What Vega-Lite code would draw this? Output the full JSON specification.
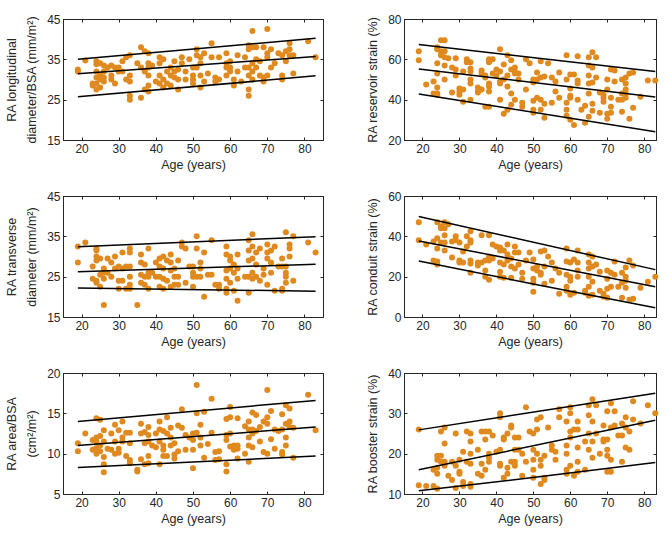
{
 "$schema": "https://vega.github.io/schema/vega-lite/v6.json",
 "padding": {"left": 4, "top": 12, "right": 5, "bottom": 2},
 "config": {
  "font": "Liberation Sans",
  "view": {"stroke": "#262626", "strokeWidth": 1},
  "axis": {"labelFontSize": 12, "titleFontSize": 12.5, "titleFontWeight": "normal", "labelColor": "#262626", "titleColor": "#262626", "domainColor": "#262626", "tickColor": "#262626", "tickSize": -3, "grid": false, "labelPadding": 6, "labelOverlap": false},
  "axisY": {"minExtent": 18, "maxExtent": 18, "titlePadding": 7, "titleLineHeight": 20},
  "axisX": {"titlePadding": 4}
 },
 "datasets": {
  "p1": [{"a":19,"v":32.5},{"a":19,"v":32},{"a":21,"v":34.7},{"a":23,"v":29},{"a":23,"v":28.5},{"a":24,"v":34.5},{"a":24,"v":33.8},{"a":24,"v":32},{"a":24,"v":30.5},{"a":24,"v":29},{"a":24,"v":27.5},{"a":25,"v":34},{"a":25,"v":31},{"a":25,"v":30},{"a":25,"v":28},{"a":26,"v":33.5},{"a":26,"v":32},{"a":26,"v":30.5},{"a":26,"v":29.5},{"a":27,"v":33},{"a":28,"v":33.5},{"a":28,"v":31},{"a":28,"v":30},{"a":29,"v":29},{"a":29,"v":33},{"a":30,"v":32},{"a":30,"v":33},{"a":31,"v":32},{"a":31,"v":34.5},{"a":32,"v":35.5},{"a":32,"v":30},{"a":33,"v":36},{"a":33,"v":31},{"a":33,"v":26},{"a":33,"v":25},{"a":33,"v":29.5},{"a":35,"v":34},{"a":36,"v":38},{"a":36,"v":33},{"a":36,"v":25.5},{"a":37,"v":37},{"a":37,"v":32},{"a":37,"v":27.5},{"a":38,"v":36.5},{"a":38,"v":34},{"a":38,"v":33},{"a":38,"v":31},{"a":38,"v":28.5},{"a":38,"v":27},{"a":39,"v":33.5},{"a":40,"v":29.5},{"a":41,"v":35.5},{"a":41,"v":34},{"a":41,"v":31},{"a":41,"v":29},{"a":42,"v":35},{"a":42,"v":30},{"a":42,"v":28},{"a":43,"v":32},{"a":43,"v":29},{"a":44,"v":33},{"a":44,"v":31},{"a":44,"v":28.5},{"a":45,"v":34.5},{"a":45,"v":32},{"a":45,"v":30.5},{"a":46,"v":27.5},{"a":46,"v":30},{"a":46,"v":32.5},{"a":47,"v":35.5},{"a":47,"v":34},{"a":48,"v":32},{"a":48,"v":30},{"a":49,"v":35},{"a":50,"v":33},{"a":50,"v":31},{"a":50,"v":30},{"a":50,"v":29},{"a":51,"v":37.5},{"a":51,"v":36},{"a":51,"v":33},{"a":52,"v":35.5},{"a":52,"v":34},{"a":52,"v":31},{"a":52,"v":28},{"a":53,"v":36.5},{"a":53,"v":29.5},{"a":54,"v":31.5},{"a":55,"v":39},{"a":55,"v":35.5},{"a":56,"v":30.5},{"a":56,"v":29.5},{"a":57,"v":35.5},{"a":57,"v":30},{"a":59,"v":36.5},{"a":59,"v":34},{"a":59,"v":33},{"a":59,"v":31},{"a":60,"v":34.5},{"a":60,"v":33},{"a":60,"v":32},{"a":61,"v":30},{"a":61,"v":28.5},{"a":62,"v":36},{"a":62,"v":32},{"a":63,"v":29.5},{"a":64,"v":35.5},{"a":64,"v":33},{"a":65,"v":38.5},{"a":65,"v":37.5},{"a":65,"v":33},{"a":65,"v":31},{"a":65,"v":27.5},{"a":65,"v":26},{"a":66,"v":42},{"a":66,"v":38},{"a":66,"v":34},{"a":66,"v":32},{"a":66,"v":30},{"a":67,"v":38},{"a":67,"v":35},{"a":67,"v":33},{"a":68,"v":34.5},{"a":68,"v":31},{"a":69,"v":38},{"a":69,"v":30.5},{"a":69,"v":29.5},{"a":70,"v":42.5},{"a":70,"v":36.5},{"a":70,"v":35.5},{"a":70,"v":31},{"a":71,"v":37.5},{"a":71,"v":33},{"a":72,"v":34},{"a":73,"v":36.5},{"a":74,"v":36},{"a":74,"v":31},{"a":74,"v":30},{"a":75,"v":37},{"a":75,"v":34.5},{"a":76,"v":39},{"a":76,"v":37.5},{"a":76,"v":36},{"a":77,"v":36},{"a":77,"v":31.5},{"a":81,"v":39.5},{"a":83,"v":35.5}],
  "p2": [{"a":19,"v":64},{"a":19,"v":59.5},{"a":21,"v":47.5},{"a":23,"v":49},{"a":23,"v":43},{"a":24,"v":66},{"a":24,"v":65},{"a":24,"v":58},{"a":24,"v":53},{"a":24,"v":46},{"a":24,"v":43},{"a":24,"v":42.5},{"a":25,"v":69.5},{"a":25,"v":64},{"a":25,"v":62},{"a":26,"v":69.5},{"a":26,"v":64},{"a":26,"v":61},{"a":26,"v":57},{"a":26,"v":50},{"a":27,"v":60.5},{"a":28,"v":56},{"a":28,"v":43.5},{"a":29,"v":60.5},{"a":29,"v":55},{"a":29,"v":52},{"a":30,"v":45.5},{"a":30,"v":44},{"a":30,"v":42.5},{"a":31,"v":54},{"a":31,"v":45},{"a":31,"v":39},{"a":32,"v":60},{"a":32,"v":58.5},{"a":33,"v":58.5},{"a":33,"v":55.5},{"a":33,"v":54},{"a":33,"v":50},{"a":33,"v":48},{"a":33,"v":40},{"a":35,"v":46},{"a":35,"v":44},{"a":35,"v":43.5},{"a":36,"v":54.5},{"a":36,"v":53},{"a":36,"v":45},{"a":37,"v":52},{"a":37,"v":51},{"a":37,"v":36.5},{"a":38,"v":60},{"a":38,"v":58.5},{"a":38,"v":48},{"a":38,"v":46.5},{"a":38,"v":44},{"a":38,"v":36.5},{"a":39,"v":60},{"a":39,"v":53},{"a":40,"v":55},{"a":40,"v":52},{"a":41,"v":65},{"a":41,"v":54},{"a":41,"v":49},{"a":41,"v":48},{"a":41,"v":40},{"a":42,"v":57.5},{"a":42,"v":50},{"a":42,"v":33},{"a":43,"v":62},{"a":43,"v":52},{"a":43,"v":46.5},{"a":43,"v":35},{"a":44,"v":59.5},{"a":44,"v":55},{"a":44,"v":43},{"a":44,"v":37.5},{"a":45,"v":56},{"a":45,"v":54},{"a":45,"v":53},{"a":45,"v":40},{"a":46,"v":50},{"a":46,"v":53},{"a":47,"v":38.5},{"a":47,"v":36.5},{"a":48,"v":60},{"a":48,"v":45},{"a":49,"v":58},{"a":50,"v":50},{"a":50,"v":48.5},{"a":50,"v":39.5},{"a":50,"v":35},{"a":50,"v":33.5},{"a":51,"v":53.5},{"a":51,"v":50},{"a":51,"v":41},{"a":52,"v":59},{"a":52,"v":51},{"a":52,"v":40},{"a":52,"v":35},{"a":53,"v":51.5},{"a":53,"v":38},{"a":53,"v":31},{"a":54,"v":58},{"a":55,"v":51},{"a":55,"v":38.5},{"a":56,"v":44},{"a":56,"v":49},{"a":57,"v":53.5},{"a":57,"v":41},{"a":59,"v":62},{"a":59,"v":50},{"a":59,"v":38.5},{"a":59,"v":35},{"a":59,"v":32},{"a":60,"v":52.5},{"a":60,"v":45.5},{"a":60,"v":42},{"a":60,"v":41},{"a":60,"v":30},{"a":61,"v":52.5},{"a":61,"v":27.5},{"a":62,"v":61.5},{"a":62,"v":49.5},{"a":62,"v":48},{"a":62,"v":40},{"a":63,"v":35},{"a":64,"v":37},{"a":64,"v":28.5},{"a":65,"v":61},{"a":65,"v":57},{"a":65,"v":52},{"a":65,"v":48},{"a":65,"v":43},{"a":65,"v":31.5},{"a":66,"v":63.5},{"a":66,"v":56},{"a":66,"v":48.5},{"a":66,"v":38},{"a":66,"v":34.5},{"a":67,"v":61},{"a":67,"v":51},{"a":68,"v":43.5},{"a":68,"v":33.5},{"a":69,"v":42.5},{"a":69,"v":41},{"a":69,"v":39},{"a":70,"v":50},{"a":70,"v":45},{"a":70,"v":33},{"a":70,"v":30.5},{"a":71,"v":55},{"a":71,"v":41},{"a":71,"v":36.5},{"a":71,"v":33.5},{"a":72,"v":54.5},{"a":72,"v":49},{"a":73,"v":40},{"a":74,"v":50},{"a":74,"v":43},{"a":74,"v":40},{"a":74,"v":34},{"a":75,"v":51},{"a":75,"v":48},{"a":75,"v":45},{"a":75,"v":43},{"a":75,"v":41},{"a":76,"v":53},{"a":76,"v":30.5},{"a":77,"v":53.5},{"a":77,"v":36},{"a":79,"v":41.5},{"a":81,"v":49.5},{"a":83,"v":49.5}],
  "p3": [{"a":19,"v":32.5},{"a":19,"v":28.5},{"a":21,"v":33.5},{"a":23,"v":27.5},{"a":23,"v":24.5},{"a":24,"v":32},{"a":24,"v":31.5},{"a":24,"v":30},{"a":24,"v":29},{"a":24,"v":24},{"a":24,"v":23.5},{"a":25,"v":29.5},{"a":25,"v":25.5},{"a":25,"v":22.5},{"a":26,"v":27},{"a":26,"v":26},{"a":26,"v":24.5},{"a":26,"v":18},{"a":27,"v":29.5},{"a":27,"v":26},{"a":28,"v":28.5},{"a":28,"v":25},{"a":29,"v":30},{"a":29,"v":27},{"a":30,"v":27.5},{"a":30,"v":24},{"a":30,"v":22},{"a":31,"v":31},{"a":31,"v":27},{"a":31,"v":24},{"a":32,"v":27.5},{"a":32,"v":22},{"a":33,"v":32},{"a":33,"v":31},{"a":33,"v":27.5},{"a":33,"v":25},{"a":33,"v":23},{"a":33,"v":22},{"a":35,"v":18},{"a":36,"v":30.5},{"a":36,"v":28.5},{"a":36,"v":25.5},{"a":36,"v":23.5},{"a":37,"v":28},{"a":37,"v":25},{"a":37,"v":23},{"a":38,"v":32},{"a":38,"v":26},{"a":38,"v":25},{"a":38,"v":22},{"a":39,"v":26},{"a":40,"v":28.5},{"a":40,"v":25},{"a":41,"v":29.5},{"a":41,"v":27.5},{"a":41,"v":25},{"a":41,"v":22.5},{"a":42,"v":30},{"a":42,"v":27},{"a":42,"v":24.5},{"a":42,"v":22},{"a":43,"v":29},{"a":43,"v":24},{"a":44,"v":30.5},{"a":44,"v":28.5},{"a":44,"v":26.5},{"a":44,"v":22.5},{"a":45,"v":27},{"a":45,"v":25},{"a":45,"v":23},{"a":46,"v":29},{"a":46,"v":25},{"a":46,"v":23},{"a":47,"v":33.5},{"a":47,"v":32.5},{"a":48,"v":32},{"a":48,"v":23.5},{"a":49,"v":27.5},{"a":50,"v":27.5},{"a":50,"v":26},{"a":50,"v":25},{"a":50,"v":22.5},{"a":51,"v":35},{"a":51,"v":32},{"a":51,"v":25},{"a":52,"v":28.5},{"a":52,"v":27},{"a":52,"v":25},{"a":53,"v":31},{"a":53,"v":20},{"a":54,"v":25.5},{"a":55,"v":34},{"a":55,"v":25.5},{"a":56,"v":23},{"a":57,"v":23},{"a":57,"v":22},{"a":59,"v":32.5},{"a":59,"v":30.5},{"a":59,"v":26.5},{"a":59,"v":24.5},{"a":59,"v":22},{"a":59,"v":21},{"a":60,"v":30},{"a":60,"v":29},{"a":60,"v":27},{"a":60,"v":23.5},{"a":61,"v":28},{"a":61,"v":26},{"a":61,"v":21.5},{"a":62,"v":30.5},{"a":62,"v":27},{"a":62,"v":24.5},{"a":62,"v":19},{"a":64,"v":25},{"a":65,"v":34},{"a":65,"v":31.5},{"a":65,"v":29},{"a":65,"v":25},{"a":65,"v":21},{"a":66,"v":35.5},{"a":66,"v":32.5},{"a":66,"v":29.5},{"a":66,"v":26},{"a":66,"v":24.5},{"a":67,"v":31},{"a":67,"v":28},{"a":67,"v":25},{"a":68,"v":32},{"a":68,"v":24},{"a":69,"v":25.5},{"a":69,"v":27},{"a":70,"v":33},{"a":70,"v":31},{"a":70,"v":29.5},{"a":70,"v":23},{"a":71,"v":31.5},{"a":71,"v":28.5},{"a":71,"v":26},{"a":72,"v":32.5},{"a":72,"v":21.5},{"a":73,"v":27.5},{"a":74,"v":29.5},{"a":74,"v":27.5},{"a":74,"v":22},{"a":74,"v":21.5},{"a":75,"v":36},{"a":75,"v":27.5},{"a":75,"v":26},{"a":75,"v":25},{"a":75,"v":23.5},{"a":76,"v":33},{"a":76,"v":32},{"a":76,"v":30},{"a":77,"v":35},{"a":77,"v":24},{"a":81,"v":33.5},{"a":83,"v":31}],
  "p4": [{"a":19,"v":47},{"a":19,"v":38},{"a":21,"v":36},{"a":23,"v":37.5},{"a":23,"v":28},{"a":24,"v":47},{"a":24,"v":39},{"a":24,"v":34},{"a":24,"v":27.5},{"a":24,"v":26},{"a":25,"v":45},{"a":25,"v":44},{"a":25,"v":37},{"a":26,"v":47},{"a":26,"v":44},{"a":26,"v":40.5},{"a":26,"v":37},{"a":26,"v":33},{"a":27,"v":46},{"a":28,"v":37.5},{"a":28,"v":29.5},{"a":29,"v":40},{"a":29,"v":38},{"a":30,"v":37},{"a":30,"v":28},{"a":30,"v":27},{"a":31,"v":32.5},{"a":31,"v":27},{"a":32,"v":40},{"a":32,"v":35},{"a":33,"v":42.5},{"a":33,"v":38},{"a":33,"v":37},{"a":33,"v":28},{"a":33,"v":26.5},{"a":33,"v":22},{"a":35,"v":27},{"a":35,"v":25.5},{"a":36,"v":40.5},{"a":36,"v":27},{"a":37,"v":28},{"a":37,"v":23},{"a":37,"v":20},{"a":38,"v":40.5},{"a":38,"v":30},{"a":38,"v":28},{"a":38,"v":18.5},{"a":39,"v":36},{"a":39,"v":29},{"a":40,"v":35},{"a":41,"v":34.5},{"a":41,"v":33},{"a":41,"v":27},{"a":41,"v":22.5},{"a":41,"v":20},{"a":42,"v":33},{"a":42,"v":26},{"a":42,"v":19.5},{"a":43,"v":36},{"a":43,"v":31},{"a":43,"v":28},{"a":44,"v":29},{"a":44,"v":25},{"a":44,"v":19.5},{"a":45,"v":35},{"a":45,"v":32},{"a":45,"v":24},{"a":46,"v":32},{"a":46,"v":26},{"a":47,"v":22},{"a":47,"v":19},{"a":48,"v":28},{"a":49,"v":32},{"a":50,"v":28.5},{"a":50,"v":24},{"a":50,"v":19},{"a":50,"v":17},{"a":50,"v":12.5},{"a":51,"v":25},{"a":51,"v":23},{"a":52,"v":32.5},{"a":52,"v":22},{"a":52,"v":21},{"a":53,"v":33},{"a":53,"v":25},{"a":53,"v":16.5},{"a":54,"v":30},{"a":55,"v":27},{"a":55,"v":18},{"a":56,"v":24},{"a":57,"v":22},{"a":57,"v":11.5},{"a":59,"v":34},{"a":59,"v":27.5},{"a":59,"v":21},{"a":59,"v":15},{"a":59,"v":13},{"a":60,"v":27},{"a":60,"v":20},{"a":60,"v":18},{"a":60,"v":11},{"a":61,"v":28.5},{"a":61,"v":12},{"a":62,"v":33},{"a":62,"v":27},{"a":62,"v":23},{"a":62,"v":20},{"a":64,"v":13},{"a":64,"v":12},{"a":65,"v":31},{"a":65,"v":27},{"a":65,"v":24},{"a":65,"v":20},{"a":65,"v":15},{"a":65,"v":10.5},{"a":66,"v":30},{"a":66,"v":25},{"a":66,"v":17.5},{"a":66,"v":11},{"a":67,"v":26},{"a":68,"v":22.5},{"a":68,"v":13},{"a":69,"v":11.5},{"a":69,"v":10},{"a":70,"v":23},{"a":70,"v":19},{"a":70,"v":14},{"a":70,"v":9.5},{"a":71,"v":22},{"a":71,"v":15},{"a":72,"v":27.5},{"a":72,"v":21},{"a":73,"v":15},{"a":74,"v":22},{"a":74,"v":17},{"a":74,"v":9.5},{"a":75,"v":24.5},{"a":75,"v":20},{"a":75,"v":18},{"a":75,"v":14.5},{"a":76,"v":28},{"a":76,"v":8.5},{"a":77,"v":25.5},{"a":77,"v":9},{"a":79,"v":14.5},{"a":81,"v":17.5},{"a":83,"v":20}],
  "p5": [{"a":19,"v":11.3},{"a":19,"v":10.3},{"a":21,"v":12.5},{"a":23,"v":11.7},{"a":23,"v":10.5},{"a":24,"v":14.4},{"a":24,"v":12},{"a":24,"v":11.5},{"a":24,"v":10.7},{"a":24,"v":10},{"a":25,"v":14.2},{"a":25,"v":12.2},{"a":25,"v":11},{"a":25,"v":10.3},{"a":26,"v":12.9},{"a":26,"v":11.5},{"a":26,"v":9.6},{"a":26,"v":8.7},{"a":26,"v":7.7},{"a":27,"v":10.6},{"a":28,"v":12.5},{"a":28,"v":10.5},{"a":29,"v":13.6},{"a":29,"v":11.5},{"a":29,"v":10},{"a":30,"v":12.9},{"a":30,"v":10.6},{"a":30,"v":10.1},{"a":31,"v":14},{"a":31,"v":12},{"a":31,"v":11.5},{"a":32,"v":12.6},{"a":32,"v":9.7},{"a":33,"v":12.6},{"a":33,"v":11.3},{"a":33,"v":9.2},{"a":33,"v":8.8},{"a":35,"v":8},{"a":35,"v":7.8},{"a":36,"v":13.7},{"a":36,"v":12.5},{"a":36,"v":9.3},{"a":37,"v":12.7},{"a":37,"v":11.3},{"a":37,"v":8.7},{"a":38,"v":13.3},{"a":38,"v":12.3},{"a":38,"v":11.5},{"a":38,"v":9.7},{"a":38,"v":8.8},{"a":39,"v":11},{"a":40,"v":12.5},{"a":40,"v":10.8},{"a":41,"v":14},{"a":41,"v":13},{"a":41,"v":11.5},{"a":41,"v":8.7},{"a":42,"v":12.8},{"a":42,"v":11},{"a":42,"v":10.5},{"a":42,"v":9.7},{"a":43,"v":14.5},{"a":43,"v":12.5},{"a":43,"v":9.7},{"a":44,"v":13.2},{"a":44,"v":12},{"a":44,"v":11},{"a":45,"v":11.3},{"a":45,"v":9.9},{"a":45,"v":9.4},{"a":46,"v":13.5},{"a":46,"v":10.3},{"a":47,"v":15.5},{"a":47,"v":13.2},{"a":48,"v":12.3},{"a":48,"v":10.5},{"a":49,"v":12},{"a":50,"v":12.5},{"a":50,"v":11.7},{"a":50,"v":10.5},{"a":50,"v":8.2},{"a":51,"v":18.5},{"a":51,"v":15},{"a":51,"v":12.6},{"a":52,"v":13.6},{"a":52,"v":12},{"a":52,"v":11},{"a":53,"v":15.2},{"a":53,"v":9.5},{"a":54,"v":11.2},{"a":55,"v":16.8},{"a":55,"v":12.6},{"a":56,"v":10.2},{"a":56,"v":9.2},{"a":57,"v":10.3},{"a":57,"v":9.3},{"a":59,"v":14.3},{"a":59,"v":12.3},{"a":59,"v":11.7},{"a":59,"v":8.7},{"a":59,"v":7.8},{"a":60,"v":15.8},{"a":60,"v":14.5},{"a":60,"v":12.5},{"a":60,"v":10.9},{"a":61,"v":11},{"a":61,"v":10.5},{"a":62,"v":14.4},{"a":62,"v":11},{"a":62,"v":10.6},{"a":62,"v":9.4},{"a":64,"v":13.4},{"a":64,"v":10},{"a":65,"v":14},{"a":65,"v":13},{"a":65,"v":12},{"a":65,"v":11},{"a":65,"v":9},{"a":66,"v":15.1},{"a":66,"v":13},{"a":66,"v":12.5},{"a":66,"v":10.8},{"a":67,"v":14.8},{"a":67,"v":12.8},{"a":68,"v":13.3},{"a":68,"v":11.5},{"a":69,"v":14},{"a":69,"v":10.2},{"a":70,"v":17.9},{"a":70,"v":14.5},{"a":70,"v":13.7},{"a":70,"v":10},{"a":71,"v":15.3},{"a":71,"v":11.8},{"a":72,"v":13},{"a":72,"v":10.6},{"a":73,"v":12.8},{"a":74,"v":14.9},{"a":74,"v":13},{"a":74,"v":10.2},{"a":74,"v":9.9},{"a":75,"v":16},{"a":75,"v":13.7},{"a":75,"v":12},{"a":75,"v":11},{"a":76,"v":15.6},{"a":76,"v":14},{"a":76,"v":13.3},{"a":77,"v":13.2},{"a":77,"v":9.5},{"a":81,"v":17.3},{"a":83,"v":12.9}],
  "p6": [{"a":19,"v":26},{"a":19,"v":12.2},{"a":21,"v":12},{"a":23,"v":16},{"a":23,"v":12},{"a":24,"v":19.5},{"a":24,"v":18.5},{"a":24,"v":16.5},{"a":24,"v":15},{"a":24,"v":11.3},{"a":25,"v":25.5},{"a":25,"v":19.5},{"a":25,"v":18},{"a":26,"v":26.5},{"a":26,"v":22.5},{"a":26,"v":18},{"a":26,"v":17},{"a":27,"v":14.5},{"a":28,"v":18},{"a":28,"v":13.5},{"a":29,"v":25},{"a":29,"v":17},{"a":29,"v":11.5},{"a":30,"v":18.5},{"a":30,"v":15.5},{"a":30,"v":15},{"a":31,"v":20.5},{"a":31,"v":13},{"a":31,"v":12},{"a":32,"v":25.5},{"a":32,"v":18},{"a":33,"v":25},{"a":33,"v":23},{"a":33,"v":20},{"a":33,"v":17.5},{"a":33,"v":12.5},{"a":33,"v":11.8},{"a":35,"v":21},{"a":35,"v":15},{"a":36,"v":25.5},{"a":36,"v":17.5},{"a":36,"v":14.5},{"a":37,"v":25.5},{"a":37,"v":23.5},{"a":37,"v":16},{"a":38,"v":25.5},{"a":38,"v":20},{"a":38,"v":19},{"a":38,"v":18},{"a":39,"v":24.5},{"a":40,"v":20.5},{"a":41,"v":30},{"a":41,"v":29},{"a":41,"v":21},{"a":41,"v":17.5},{"a":41,"v":17},{"a":42,"v":24},{"a":42,"v":23.5},{"a":42,"v":14},{"a":43,"v":25},{"a":43,"v":16.5},{"a":43,"v":15},{"a":44,"v":27},{"a":44,"v":26.5},{"a":44,"v":18},{"a":45,"v":24},{"a":45,"v":21},{"a":45,"v":17},{"a":45,"v":18},{"a":46,"v":24},{"a":46,"v":21},{"a":47,"v":20},{"a":47,"v":14.5},{"a":48,"v":31.5},{"a":48,"v":18},{"a":49,"v":25.5},{"a":50,"v":25},{"a":50,"v":21},{"a":50,"v":18.5},{"a":50,"v":16},{"a":50,"v":14},{"a":51,"v":28.5},{"a":51,"v":26},{"a":51,"v":20},{"a":52,"v":29},{"a":52,"v":18.5},{"a":52,"v":17},{"a":52,"v":12.5},{"a":53,"v":19.5},{"a":53,"v":14},{"a":53,"v":13.5},{"a":54,"v":26.5},{"a":55,"v":22},{"a":55,"v":21},{"a":56,"v":18.5},{"a":56,"v":20.5},{"a":57,"v":31},{"a":57,"v":29},{"a":59,"v":28},{"a":59,"v":22},{"a":59,"v":20},{"a":59,"v":16},{"a":59,"v":15},{"a":60,"v":31.5},{"a":60,"v":30},{"a":60,"v":25.5},{"a":60,"v":24},{"a":60,"v":17},{"a":61,"v":26},{"a":61,"v":14.5},{"a":62,"v":28},{"a":62,"v":26},{"a":62,"v":21.5},{"a":62,"v":18},{"a":62,"v":15.5},{"a":64,"v":23},{"a":64,"v":16},{"a":65,"v":32},{"a":65,"v":29.5},{"a":65,"v":25},{"a":65,"v":21},{"a":66,"v":33.5},{"a":66,"v":28},{"a":66,"v":23},{"a":66,"v":19},{"a":67,"v":32},{"a":67,"v":25},{"a":68,"v":20},{"a":69,"v":27},{"a":69,"v":23.5},{"a":69,"v":23},{"a":70,"v":30.5},{"a":70,"v":23.5},{"a":70,"v":21},{"a":70,"v":19.5},{"a":70,"v":15.5},{"a":71,"v":32.5},{"a":71,"v":26.5},{"a":71,"v":18.5},{"a":71,"v":15.5},{"a":72,"v":30.5},{"a":72,"v":27},{"a":73,"v":24.5},{"a":74,"v":27.5},{"a":74,"v":24.5},{"a":74,"v":18},{"a":75,"v":29},{"a":75,"v":26.5},{"a":75,"v":21.5},{"a":76,"v":25.5},{"a":76,"v":21},{"a":77,"v":33},{"a":77,"v":28.5},{"a":79,"v":27.5},{"a":81,"v":32},{"a":83,"v":30}],
  "l1": [{"a":19,"v":35.0,"g":"u"},{"a":83,"v":40.2,"g":"u"},{"a":19,"v":31.4,"g":"m"},{"a":83,"v":35.7,"g":"m"},{"a":19,"v":25.7,"g":"l"},{"a":83,"v":30.9,"g":"l"}],
  "l2": [{"a":19,"v":67.3,"g":"u"},{"a":83,"v":54.0,"g":"u"},{"a":19,"v":55.2,"g":"m"},{"a":83,"v":41.3,"g":"m"},{"a":19,"v":42.8,"g":"l"},{"a":83,"v":24.1,"g":"l"}],
  "l3": [{"a":19,"v":32.4,"g":"u"},{"a":83,"v":34.9,"g":"u"},{"a":19,"v":26.2,"g":"m"},{"a":83,"v":28.1,"g":"m"},{"a":19,"v":22.2,"g":"l"},{"a":83,"v":21.4,"g":"l"}],
  "l4": [{"a":19,"v":49.8,"g":"u"},{"a":83,"v":23.5,"g":"u"},{"a":19,"v":37.7,"g":"m"},{"a":83,"v":15.0,"g":"m"},{"a":19,"v":27.8,"g":"l"},{"a":51,"v":16.0,"g":"l"},{"a":83,"v":4.6,"g":"l"}],
  "l5": [{"a":19,"v":14.0,"g":"u"},{"a":83,"v":16.6,"g":"u"},{"a":19,"v":11.0,"g":"m"},{"a":83,"v":13.3,"g":"m"},{"a":19,"v":8.3,"g":"l"},{"a":83,"v":9.7,"g":"l"}],
  "l6": [{"a":19,"v":25.9,"g":"u"},{"a":83,"v":35.0,"g":"u"},{"a":19,"v":16.0,"g":"m"},{"a":83,"v":28.3,"g":"m"},{"a":19,"v":10.8,"g":"l"},{"a":51,"v":14.2,"g":"l"},{"a":83,"v":17.8,"g":"l"}]
 },
 "columns": 2,
 "spacing": {"row": 18, "column": 41},
 "align": "each",
 "concat": [
  {"width": 260, "height": 121, "resolve": {"axis": {"x": "independent", "y": "independent"}},
   "layer": [
    {"data": {"name": "p1"}, "mark": {"type": "circle", "size": 36, "color": "#E0891E", "opacity": 1},
     "encoding": {"x": {"field": "a", "type": "quantitative", "scale": {"domain": [15, 85], "nice": false, "zero": false}, "axis": {"values": [20,30,40,50,60,70,80], "title": "Age (years)"}},
                  "y": {"field": "v", "type": "quantitative", "scale": {"domain": [15, 45], "nice": false, "zero": false}, "axis": {"values": [15,25,35,45], "title": ["RA longitudinal", "diameter/BSA (mm/m²)"]}}}},
    {"data": {"name": "l1"}, "mark": {"type": "line", "color": "black", "strokeWidth": 1.5},
     "encoding": {"x": {"field": "a", "type": "quantitative", "scale": {"domain": [15, 85], "nice": false, "zero": false}, "axis": {"orient": "top", "values": [20,30,40,50,60,70,80], "labels": false, "title": null, "minExtent": 0, "maxExtent": 0}},
                  "y": {"field": "v", "type": "quantitative", "scale": {"domain": [15, 45], "nice": false, "zero": false}, "axis": {"orient": "right", "values": [15,25,35,45], "labels": false, "title": null, "minExtent": 0, "maxExtent": 0}},
                  "detail": {"field": "g"}}}
   ]},
  {"width": 252, "height": 121, "resolve": {"axis": {"x": "independent", "y": "independent"}},
   "layer": [
    {"data": {"name": "p2"}, "mark": {"type": "circle", "size": 36, "color": "#E0891E", "opacity": 1},
     "encoding": {"x": {"field": "a", "type": "quantitative", "scale": {"domain": [15, 83.2], "nice": false, "zero": false}, "axis": {"values": [20,30,40,50,60,70,80], "title": "Age (years)"}},
                  "y": {"field": "v", "type": "quantitative", "scale": {"domain": [20, 80], "nice": false, "zero": false}, "axis": {"values": [20,40,60,80], "title": "RA reservoir strain (%)"}}}},
    {"data": {"name": "l2"}, "mark": {"type": "line", "color": "black", "strokeWidth": 1.5},
     "encoding": {"x": {"field": "a", "type": "quantitative", "scale": {"domain": [15, 83.2], "nice": false, "zero": false}, "axis": {"orient": "top", "values": [20,30,40,50,60,70,80], "labels": false, "title": null, "minExtent": 0, "maxExtent": 0}},
                  "y": {"field": "v", "type": "quantitative", "scale": {"domain": [20, 80], "nice": false, "zero": false}, "axis": {"orient": "right", "values": [20,40,60,80], "labels": false, "title": null, "minExtent": 0, "maxExtent": 0}},
                  "detail": {"field": "g"}}}
   ]},
  {"width": 260, "height": 121, "resolve": {"axis": {"x": "independent", "y": "independent"}},
   "layer": [
    {"data": {"name": "p3"}, "mark": {"type": "circle", "size": 36, "color": "#E0891E", "opacity": 1},
     "encoding": {"x": {"field": "a", "type": "quantitative", "scale": {"domain": [15, 85], "nice": false, "zero": false}, "axis": {"values": [20,30,40,50,60,70,80], "title": "Age (years)"}},
                  "y": {"field": "v", "type": "quantitative", "scale": {"domain": [15, 45], "nice": false, "zero": false}, "axis": {"values": [15,25,35,45], "title": ["RA transverse", "diameter (mm/m²)"]}}}},
    {"data": {"name": "l3"}, "mark": {"type": "line", "color": "black", "strokeWidth": 1.5},
     "encoding": {"x": {"field": "a", "type": "quantitative", "scale": {"domain": [15, 85], "nice": false, "zero": false}, "axis": {"orient": "top", "values": [20,30,40,50,60,70,80], "labels": false, "title": null, "minExtent": 0, "maxExtent": 0}},
                  "y": {"field": "v", "type": "quantitative", "scale": {"domain": [15, 45], "nice": false, "zero": false}, "axis": {"orient": "right", "values": [15,25,35,45], "labels": false, "title": null, "minExtent": 0, "maxExtent": 0}},
                  "detail": {"field": "g"}}}
   ]},
  {"width": 252, "height": 121, "resolve": {"axis": {"x": "independent", "y": "independent"}},
   "layer": [
    {"data": {"name": "p4"}, "mark": {"type": "circle", "size": 36, "color": "#E0891E", "opacity": 1},
     "encoding": {"x": {"field": "a", "type": "quantitative", "scale": {"domain": [15, 83.2], "nice": false, "zero": false}, "axis": {"values": [20,30,40,50,60,70,80], "title": "Age (years)"}},
                  "y": {"field": "v", "type": "quantitative", "scale": {"domain": [0, 60], "nice": false, "zero": false}, "axis": {"values": [0,20,40,60], "title": "RA conduit strain (%)"}}}},
    {"data": {"name": "l4"}, "mark": {"type": "line", "color": "black", "strokeWidth": 1.5},
     "encoding": {"x": {"field": "a", "type": "quantitative", "scale": {"domain": [15, 83.2], "nice": false, "zero": false}, "axis": {"orient": "top", "values": [20,30,40,50,60,70,80], "labels": false, "title": null, "minExtent": 0, "maxExtent": 0}},
                  "y": {"field": "v", "type": "quantitative", "scale": {"domain": [0, 60], "nice": false, "zero": false}, "axis": {"orient": "right", "values": [0,20,40,60], "labels": false, "title": null, "minExtent": 0, "maxExtent": 0}},
                  "detail": {"field": "g"}}}
   ]},
  {"width": 260, "height": 121, "resolve": {"axis": {"x": "independent", "y": "independent"}},
   "layer": [
    {"data": {"name": "p5"}, "mark": {"type": "circle", "size": 36, "color": "#E0891E", "opacity": 1},
     "encoding": {"x": {"field": "a", "type": "quantitative", "scale": {"domain": [15, 85], "nice": false, "zero": false}, "axis": {"values": [20,30,40,50,60,70,80], "title": "Age (years)"}},
                  "y": {"field": "v", "type": "quantitative", "scale": {"domain": [5, 20], "nice": false, "zero": false}, "axis": {"values": [5,10,15,20], "title": ["RA area/BSA", "(cm²/m²)"]}}}},
    {"data": {"name": "l5"}, "mark": {"type": "line", "color": "black", "strokeWidth": 1.5},
     "encoding": {"x": {"field": "a", "type": "quantitative", "scale": {"domain": [15, 85], "nice": false, "zero": false}, "axis": {"orient": "top", "values": [20,30,40,50,60,70,80], "labels": false, "title": null, "minExtent": 0, "maxExtent": 0}},
                  "y": {"field": "v", "type": "quantitative", "scale": {"domain": [5, 20], "nice": false, "zero": false}, "axis": {"orient": "right", "values": [5,10,15,20], "labels": false, "title": null, "minExtent": 0, "maxExtent": 0}},
                  "detail": {"field": "g"}}}
   ]},
  {"width": 252, "height": 121, "resolve": {"axis": {"x": "independent", "y": "independent"}},
   "layer": [
    {"data": {"name": "p6"}, "mark": {"type": "circle", "size": 36, "color": "#E0891E", "opacity": 1},
     "encoding": {"x": {"field": "a", "type": "quantitative", "scale": {"domain": [15, 83.2], "nice": false, "zero": false}, "axis": {"values": [20,30,40,50,60,70,80], "title": "Age (years)"}},
                  "y": {"field": "v", "type": "quantitative", "scale": {"domain": [10, 40], "nice": false, "zero": false}, "axis": {"values": [10,20,30,40], "title": "RA booster strain (%)"}}}},
    {"data": {"name": "l6"}, "mark": {"type": "line", "color": "black", "strokeWidth": 1.5},
     "encoding": {"x": {"field": "a", "type": "quantitative", "scale": {"domain": [15, 83.2], "nice": false, "zero": false}, "axis": {"orient": "top", "values": [20,30,40,50,60,70,80], "labels": false, "title": null, "minExtent": 0, "maxExtent": 0}},
                  "y": {"field": "v", "type": "quantitative", "scale": {"domain": [10, 40], "nice": false, "zero": false}, "axis": {"orient": "right", "values": [10,20,30,40], "labels": false, "title": null, "minExtent": 0, "maxExtent": 0}},
                  "detail": {"field": "g"}}}
   ]}
 ]
}
